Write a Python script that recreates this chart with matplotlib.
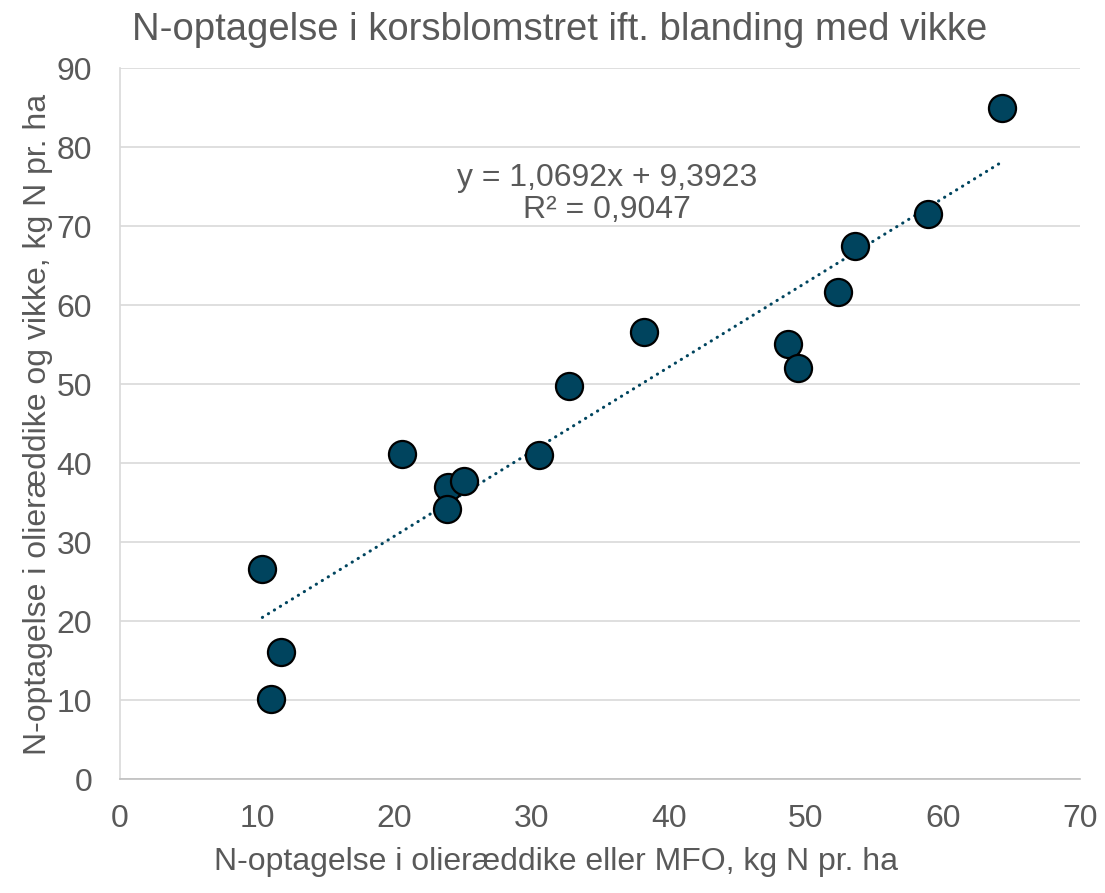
import numpy as np
import matplotlib
matplotlib.use('Agg')
import matplotlib.pyplot as plt

# data
x_mfo = [10.38, 11.74, 11.01, 20.54, 23.94, 25.08, 23.84, 30.55,
         32.74, 38.23, 48.70, 49.44, 52.38, 53.57, 58.90, 64.29]
y_vikke = [26.6, 16.1, 10.2, 41.2, 36.95, 37.7, 34.26, 41.08,
           49.75, 56.66, 55.1, 52.07, 61.7, 67.5, 71.5, 84.97]

slope = 1.0692
intercept = 9.3923
r2 = 0.9047

title = 'N-optagelse i korsblomstret ift. blanding med vikke'
xlabel = 'N-optagelse i olieræddike eller MFO, kg N pr. ha'
ylabel = 'N-optagelse i olieræddike og vikke, kg N pr. ha'

plt.rcParams['font.family'] = ['Liberation Sans', 'DejaVu Sans']
txt_col = '#595959'
dot_col = '#00445E'

fig = plt.figure(figsize=(11.05, 8.93), dpi=100)
ax = fig.add_axes([0.1086, 0.1273, 0.8688, 0.7962])

# trend line
xs = np.array([min(x_mfo), max(x_mfo)])
ax.plot(xs, slope * xs + intercept, linestyle=(0, (0.1, 2.2)), color=dot_col,
        linewidth=2.2, dash_capstyle='round', zorder=2)

ax.scatter(x_mfo, y_vikke, s=380, color=dot_col, edgecolors='black',
           linewidths=1.6, zorder=3)

ax.set_xlim(0, 70)
ax.set_ylim(0, 90)
ax.set_xticks(range(0, 71, 10))
ax.set_yticks(range(0, 91, 10))
ax.grid(axis='y', color='#D9D9D9', linewidth=1.2)
ax.set_axisbelow(True)
for s in ['top', 'right']:
    ax.spines[s].set_visible(False)
ax.spines['left'].set_color('#D9D9D9')
ax.spines['bottom'].set_color('#BFBFBF')
ax.spines['left'].set_linewidth(1.2)
ax.spines['bottom'].set_linewidth(1.2)
ax.tick_params(axis='both', length=0, labelsize=23, labelcolor=txt_col)
ax.tick_params(axis='y', pad=20)
ax.tick_params(axis='x', pad=18)

eq = 'y = 1,0692x + 9,3923\nR² = {}'.format(str(r2).replace('.', ','))
ax.text(35.5, 74.1, eq, ha='center', va='center',
        fontsize=23, color=txt_col, linespacing=1.1)

fig.text(560 / 1105, 1 - 30 / 893, title, ha='center', va='center',
         fontsize=27.5, color=txt_col)
fig.text(556 / 1105, 1 - 862 / 893, xlabel, ha='center', va='center',
         fontsize=23, color=txt_col)
fig.text(38 / 1105, 1 - 424 / 893, ylabel, ha='center', va='center',
         rotation=90, fontsize=23, color=txt_col)

fig.savefig('out.png', dpi=100)
